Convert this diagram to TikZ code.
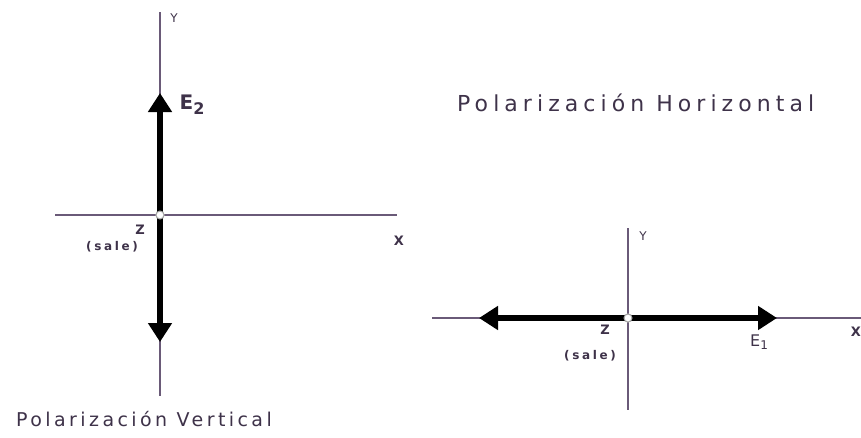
\documentclass[tikz,border=0pt]{standalone}
\usepackage{fontspec}
\usepackage{xcolor}
\usetikzlibrary{arrows.meta}
\setmainfont{DejaVu Sans}
\newfontfamily\titlefont[LetterSpace=18]{DejaVu Sans}
\newfontfamily\htitlefont[LetterSpace=23]{DejaVu Sans}
\newfontfamily\smallfont[LetterSpace=22]{DejaVu Sans}
\definecolor{axisgray}{HTML}{6A5A78}
\definecolor{labelgray}{HTML}{3E3249}

\begin{document}
\begin{tikzpicture}[x=1pt,y=-1pt,
  axis/.style={draw=axisgray,line width=1.6pt},
  field/.style={line width=6pt,-{Triangle[width=23pt,length=19pt]}},
  origin/.style={circle,draw=gray!70,fill=white,line width=1pt,minimum size=8pt,inner sep=0pt},
  lbl/.style={text=labelgray,inner sep=0pt,font=\bfseries\fontsize{13}{13}\selectfont},
  sale/.style={text=labelgray,inner sep=0pt,font=\smallfont\bfseries\fontsize{12}{12}\selectfont},
  sub/.style={text=labelgray,inner sep=0pt,font=\bfseries\fontsize{20}{20}\selectfont},
  title/.style={text=labelgray,inner sep=0pt,font=\titlefont\fontsize{19}{19}\selectfont}]
\useasboundingbox (0,0) rectangle (861,437);
% vertical polarization
\coordinate (lyt) at (160,12);
\coordinate (lyb) at (160,396);
\coordinate (lxl) at (55,215);
\coordinate (lxr) at (397,215);
\coordinate (lup) at (160,93);
\coordinate (ldn) at (160,342);
\draw[axis] (lyt) -- (lyb);
\draw[axis] (lxl) -- (lxr);
\node[origin] (lo) at (160,215) {};
\draw[field] (lo.center) -- (lup);
\draw[field] (lo.center) -- (ldn);
\node[origin] at (lo) {};
\node[lbl,font=\fontsize{12}{12}\selectfont] (ly) at (174,18) {Y};
\node[lbl] (lx) at (399,241) {X};
\node[sub] (le) at (192,105) {E\raisebox{-5pt}{\fontsize{16}{16}\selectfont 2}};
\node[lbl] (lz) at (140,230) {Z};
\node[sale] (ls) at (112,247) {(sale)};
\node[title,anchor=west] (lt) at (16,419) {Polarización Vertical};
% horizontal polarization
\coordinate (ryt) at (628,228);
\coordinate (ryb) at (628,410);
\coordinate (rxl) at (432,318);
\coordinate (rxr) at (861,318);
\coordinate (rlf) at (479,318);
\coordinate (rrt) at (777,318);
\draw[axis] (ryt) -- (ryb);
\draw[axis] (rxl) -- (rxr);
\node[origin] (ro) at (628,318) {};
\draw[field] (ro.center) -- (rlf);
\draw[field] (ro.center) -- (rrt);
\node[origin] at (ro) {};
\node[lbl,font=\fontsize{12}{12}\selectfont] (ry) at (643,236) {Y};
\node[lbl,anchor=east] (rx) at (861,332) {X};
\node[lbl,font=\fontsize{16}{16}\selectfont] (re) at (759,342) {E\raisebox{-3pt}{\fontsize{12}{12}\selectfont 1}};
\node[lbl] (rz) at (605,330) {Z};
\node[sale] (rs) at (590,356) {(sale)};
\node[title,font=\htitlefont\fontsize{22}{22}\selectfont,anchor=west] (rt) at (457,103) {Polarización Horizontal};
\end{tikzpicture}
\end{document}
